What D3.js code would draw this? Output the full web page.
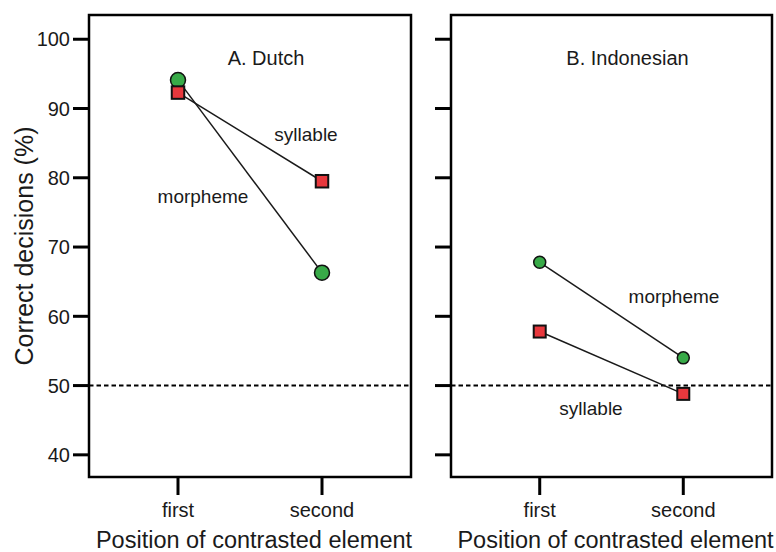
<!DOCTYPE html>
<meta charset="utf-8">
<style>
  body { margin: 0; background: #fff; }
  text { font-family: "Liberation Sans", Arial, sans-serif; fill: #1a1a1a; }
</style>
<svg width="776" height="552"></svg>
<script src="https://d3js.org/d3.v7.min.js"></script>
<script>
var positions = ["first", "second"];
var yTicks = [40, 50, 60, 70, 80, 90, 100];
var panelTitles = ["A. Dutch", "B. Indonesian"];
var dutchMorpheme = [94.1, 66.3];
var dutchSyllable = [92.3, 79.5];
var indoMorpheme = [67.8, 54.0];
var indoSyllable = [57.8, 48.8];
var chance = 50;

var svg = d3.select("svg");

var top_ = 15, bottom = 477;
var panels = [
  { left: 89, right: 411, title: panelTitles[0], morpheme: dutchMorpheme, syllable: dutchSyllable, r: 7.5, size: 12.5,
    notes: [{ text: "syllable", x: 217, y: 126 }, { text: "morpheme", x: 114, y: 188 }] },
  { left: 451, right: 772, title: panelTitles[1], morpheme: indoMorpheme, syllable: indoSyllable, r: 6, size: 12,
    notes: [{ text: "morpheme", x: 223, y: 288 }, { text: "syllable", x: 140, y: 400 }] }
];

var y = d3.scaleLinear()
    .domain([36.8, 103.5])
    .range([bottom - top_, 0]);

panels.forEach(function(p, i) {
  var w = p.right - p.left,
      h = bottom - top_;

  var x = d3.scalePoint()
      .domain(positions)
      .range([0, w])
      .padding(0.618);

  var g = svg.append("g")
      .attr("transform", "translate(" + p.left + "," + top_ + ")");

  // y ticks
  g.selectAll(".ytick")
    .data(yTicks)
    .enter().append("line")
      .attr("x1", -16).attr("x2", 0)
      .attr("y1", function(d) { return y(d); })
      .attr("y2", function(d) { return y(d); })
      .attr("stroke", "#000")
      .attr("stroke-width", 3);

  if (i === 0) {
    g.selectAll(".ylab")
      .data(yTicks)
      .enter().append("text")
        .attr("x", -19)
        .attr("y", function(d) { return y(d); })
        .attr("dy", "0.36em")
        .attr("text-anchor", "end")
        .style("font-size", "20px")
        .text(function(d) { return d; });
  }

  // x ticks
  g.selectAll(".xtick")
    .data(positions)
    .enter().append("line")
      .attr("x1", function(d) { return x(d); })
      .attr("x2", function(d) { return x(d); })
      .attr("y1", h).attr("y2", h + 18)
      .attr("stroke", "#000")
      .attr("stroke-width", 3);

  g.selectAll(".xlab")
    .data(positions)
    .enter().append("text")
      .attr("x", function(d) { return x(d); })
      .attr("y", h + 40)
      .attr("text-anchor", "middle")
      .style("font-size", "20px")
      .text(function(d) { return d; });

  g.append("text")
      .attr("x", w / 2 + 4)
      .attr("y", h + 71)
      .attr("text-anchor", "middle")
      .style("font-size", "23.5px")
      .text("Position of contrasted element");

  // chance line
  g.append("line")
      .attr("x1", 0).attr("x2", w)
      .attr("y1", y(chance)).attr("y2", y(chance))
      .attr("stroke", "#000")
      .attr("stroke-width", 2)
      .attr("stroke-dasharray", "4.5,3");

  // frame
  g.append("rect")
      .attr("width", w).attr("height", h)
      .attr("fill", "none")
      .attr("stroke", "#000")
      .attr("stroke-width", 2.5);

  g.append("text")
      .attr("x", w / 2 + 16)
      .attr("y", 50)
      .attr("text-anchor", "middle")
      .style("font-size", "20px")
      .text(p.title);

  var line = d3.line()
      .x(function(d, j) { return x(positions[j]); })
      .y(function(d) { return y(d); });

  [p.morpheme, p.syllable].forEach(function(s) {
    g.append("path")
        .attr("d", line(s))
        .attr("fill", "none")
        .attr("stroke", "#1a1a1a")
        .attr("stroke-width", 1.5);
  });

  g.selectAll(".circ")
    .data(p.morpheme)
    .enter().append("circle")
      .attr("cx", function(d, j) { return x(positions[j]); })
      .attr("cy", function(d) { return y(d); })
      .attr("r", p.r)
      .attr("fill", "#38aa48")
      .attr("stroke", "#111")
      .attr("stroke-width", 1.5);

  g.selectAll(".sq")
    .data(p.syllable)
    .enter().append("rect")
      .attr("x", function(d, j) { return x(positions[j]) - p.size / 2; })
      .attr("y", function(d) { return y(d) - p.size / 2; })
      .attr("width", p.size).attr("height", p.size)
      .attr("fill", "#e8383d")
      .attr("stroke", "#111")
      .attr("stroke-width", 2);

  g.selectAll(".note")
    .data(p.notes)
    .enter().append("text")
      .attr("x", function(d) { return d.x; })
      .attr("y", function(d) { return d.y; })
      .attr("text-anchor", "middle")
      .style("font-size", "19px")
      .text(function(d) { return d.text; });
});

svg.append("text")
    .attr("transform", "translate(33," + (top_ + bottom) / 2 + ") rotate(-90)")
    .attr("text-anchor", "middle")
    .style("font-size", "25px")
    .text("Correct decisions (%)");
</script>
